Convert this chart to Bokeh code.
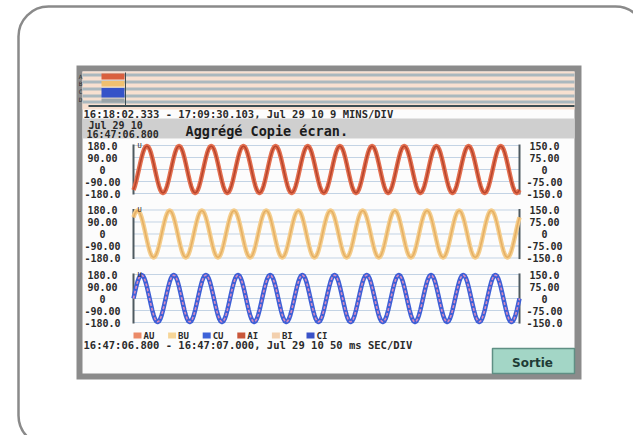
import numpy as np
from bokeh.plotting import figure
from bokeh.models import Range1d
from bokeh.core.properties import value
from bokeh.embed import file_html
from bokeh.resources import INLINE

# ---------------- data ----------------
TIME_START_MS = 0.0
TIME_END_MS = 200.0                 # 16:47:06.800 -> 16:47:07.000
SAMPLES_PER_CYCLE = 24
CYCLE_MS = 1000.0 / 60.0            # 60 Hz mains, 12 cycles on screen
# one cycle of the waveform, normalised, starting at a crest
CYCLE_SHAPE = [1.00, 0.97, 0.87, 0.71, 0.50, 0.26, 0.00, -0.26, -0.50, -0.71, -0.87, -0.97,
               -1.00, -0.97, -0.87, -0.71, -0.50, -0.26, 0.00, 0.26, 0.50, 0.71, 0.87, 0.97]
N_CYCLES = 12
CHANNELS = ["A", "B", "C"]
VOLT_AMPLITUDE = [176.0, 176.0, 176.0]      # AU, BU, CU  (left scale, +-180)
CURR_AMPLITUDE = [146.0, 146.0, 146.0]      # AI, BI, CI  (right scale, +-150)
FIRST_CREST_SAMPLE = [10, 3, 6]             # sample index of first crest per phase

LEFT_TICKS = [180, 90, 0, -90, -180]
LEFT_LABELS = ["180.0", "90.00", "0", "-90.00", "-180.0"]
RIGHT_TICKS = [150, 75, 0, -75, -150]
RIGHT_LABELS = ["150.0", "75.00", "0", "-75.00", "-150.0"]

LEGEND_LABELS = ["AU", "BU", "CU", "AI", "BI", "CI"]

OVERVIEW_SPAN = "16:18:02.333 - 17:09:30.103, Jul 29 10   9 MINS/DIV"
CURSOR_DATE = "Jul 29 10"
CURSOR_TIME = "16:47:06.800"
TITLE = "Aggrégé Copie écran."
ZOOM_SPAN = "16:47:06.800 - 16:47:07.000, Jul 29 10   50 ms SEC/DIV"
BUTTON_TEXT = "Sortie"

# ---------------- styles / layout ----------------
VOLT_COLORS = ["#e36f4f", "#f4cd8c", "#3d5fd6"]
CURR_COLORS = ["#b8452c", "#e6b064", "#d98cc0"]
LEGEND_COLORS = ["#eb8a68", "#f6d598", "#3d62d8", "#c9573a", "#f3d0ae", "#3a52c8"]
MONO = value("DejaVu Sans Mono")
SANS = value("DejaVu Sans")
TXT = "#2a2a2a"

W, H = 633, 435
X_LEFT, X_RIGHT = 0, W
Y_TOP, Y_BOTTOM = 0, H

PANEL_LEFT, PANEL_RIGHT = 133, 519
PANEL_TOPS = [145.0, 209.5, 274.0]
PANEL_H = 48.0

p = figure(width=W, height=H, output_backend="svg", toolbar_location=None,
           x_range=Range1d(X_LEFT, X_RIGHT), y_range=Range1d(Y_BOTTOM, Y_TOP),
           min_border=0, outline_line_color=None)
p.axis.visible = False
p.grid.visible = False
p.background_fill_color = "white"
p.border_fill_color = "white"

# time range mapped onto the panel columns
ppx = (PANEL_RIGHT - PANEL_LEFT) / (TIME_END_MS - TIME_START_MS)
p.extra_x_ranges = {"t": Range1d(TIME_START_MS - (PANEL_LEFT - X_LEFT) / ppx,
                                 TIME_END_MS + (X_RIGHT - PANEL_RIGHT) / ppx)}


def band_range(top, bottom, vmax):
    ppu = (bottom - top) / (2.0 * vmax)
    return Range1d(-vmax - (Y_BOTTOM - bottom) / ppu, vmax + (top - Y_TOP) / ppu)


yr = {}
for k, top in enumerate(PANEL_TOPS):
    yr[f"L{k}"] = band_range(top, top + PANEL_H, LEFT_TICKS[0])
    yr[f"R{k}"] = band_range(top, top + PANEL_H, RIGHT_TICKS[0])
p.extra_y_ranges = yr

# outer rounded card
p.quad(left=[18], right=[645], top=[6], bottom=[445], fill_color=None,
       line_color="#8a8a8a", line_width=2.5, border_radius=30)

# screen frame
p.quad(left=[76], right=[581], top=[65], bottom=[379], fill_color="#8b8b8b", line_color=None)
p.quad(left=[82], right=[574], top=[71], bottom=[373], fill_color="#fcfcfc", line_color=None)

# overview strip
p.quad(left=[82], right=[574], top=[71], bottom=[109], fill_color="#f8e0d0", line_color=None)
stripe_tops = [73, 80, 87, 94, 100]
p.quad(left=[82] * 5, right=[574] * 5, top=stripe_tops, bottom=[t + 3 for t in stripe_tops],
       fill_color="#aab8be", line_color=None)
p.segment(x0=[88], x1=[574], y0=[105.5], y1=[105.5], line_color="#3d4d52", line_width=2)
p.segment(x0=[125], x1=[125], y0=[72], y1=[106], line_color="#3d4d52", line_width=1)
p.quad(left=[101, 101, 101, 101], right=[124, 124, 124, 124], top=[73, 80.5, 87.5, 98],
       bottom=[79, 86, 97, 102], fill_color=["#d9603e", "#f0c070", "#3552c8", "#9aa4a8"],
       line_color=None)
p.text(x=[80, 80, 80, 80], y=[76, 83, 91, 99], text=["A", "B", "C", "D"], text_font=MONO,
       text_font_size="6px", text_color=TXT, text_align="center", text_baseline="middle")

p.text(x=[83], y=[113.5], text=[OVERVIEW_SPAN], text_font=MONO, text_font_size="10.5px",
       text_font_style="bold", text_color=TXT, text_baseline="middle")

# title band
p.quad(left=[82], right=[574], top=[118], bottom=[138], fill_color="#cfcfcf", line_color=None)
p.text(x=[88, 86], y=[125, 133.5], text=[CURSOR_DATE, CURSOR_TIME], text_font=MONO,
       text_font_size="10px", text_font_style="bold", text_color=TXT, text_baseline="middle")
p.text(x=[185], y=[130.5], text=[TITLE], text_font=MONO, text_font_size="13.5px",
       text_font_style="bold", text_color="#1c1c1c", text_baseline="middle")

# waveform panels
n = N_CYCLES * SAMPLES_PER_CYCLE + 1
t = np.arange(n) * (CYCLE_MS / SAMPLES_PER_CYCLE)
shape = np.array(CYCLE_SHAPE)
for k, ch in enumerate(CHANNELS):
    L, R = f"L{k}", f"R{k}"
    p.segment(x0=[TIME_START_MS] * 5, x1=[TIME_END_MS] * 5, y0=LEFT_TICKS, y1=LEFT_TICKS,
              x_range_name="t", y_range_name=L, line_color="#c3d3e4", line_width=1)
    p.segment(x0=[TIME_START_MS, TIME_END_MS], x1=[TIME_START_MS, TIME_END_MS],
              y0=[-188, -188], y1=[188, 188], x_range_name="t", y_range_name=L,
              line_color="#4e5a60", line_width=2)
    idx = (np.arange(n) - FIRST_CREST_SAMPLE[k]) % SAMPLES_PER_CYCLE
    volts = shape[idx] * VOLT_AMPLITUDE[k]
    amps = shape[idx] * CURR_AMPLITUDE[k]
    p.line(t, volts, x_range_name="t", y_range_name=L, line_color=VOLT_COLORS[k],
           line_width=4.5, line_join="round")
    p.line(t, amps, x_range_name="t", y_range_name=R, line_color=CURR_COLORS[k],
           line_width=1.6, line_dash="3 2" if k == 2 else "solid")
    p.text(x=[102] * 5, y=LEFT_TICKS, text=LEFT_LABELS, y_range_name=L, text_font=MONO,
           text_font_size="10px", text_font_style="bold", text_color=TXT,
           text_align="center", text_baseline="middle")
    p.text(x=[544] * 5, y=RIGHT_TICKS, text=RIGHT_LABELS, y_range_name=R, text_font=MONO,
           text_font_size="10px", text_font_style="bold", text_color=TXT,
           text_align="center", text_baseline="middle")
    p.text(x=[137], y=[LEFT_TICKS[0]], text=["U"], y_range_name=L, text_font=MONO,
           text_font_size="7px", text_color=TXT, text_baseline="middle")

# legend
for i, (lab, col) in enumerate(zip(LEGEND_LABELS, LEGEND_COLORS)):
    x0 = 133 + i * 34.6
    p.quad(left=[x0], right=[x0 + 8], top=[332], bottom=[338], fill_color=col, line_color=None)
    p.text(x=[x0 + 10], y=[335], text=[lab], text_font=MONO, text_font_size="9px",
           text_font_style="bold", text_color=TXT, text_baseline="middle")

p.text(x=[83], y=[344.5], text=[ZOOM_SPAN], text_font=MONO, text_font_size="10.5px",
       text_font_style="bold", text_color=TXT, text_baseline="middle")

# Sortie button
p.quad(left=[492], right=[574], top=[348], bottom=[373], fill_color="#a3d6c6",
       line_color="#5f8f84", line_width=1.5)
p.text(x=[532], y=[362], text=[BUTTON_TEXT], text_font=SANS, text_font_size="12px",
       text_font_style="bold", text_color="#1f3c36", text_align="center",
       text_baseline="middle")

open("out.html", "w").write(file_html(p, INLINE))
